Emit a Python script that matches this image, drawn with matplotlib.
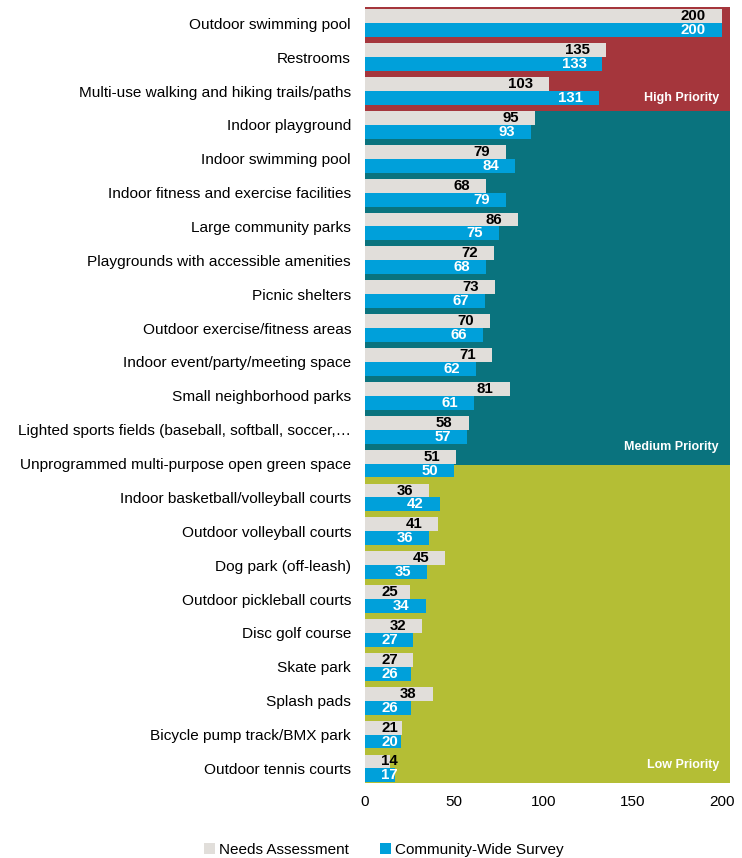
import matplotlib
matplotlib.use("Agg")
import matplotlib.pyplot as plt
from matplotlib.patches import Patch
from matplotlib.transforms import offset_copy

plt.rcParams['font.family'] = ['Liberation Sans', 'DejaVu Sans']

categories = [
    "Outdoor swimming pool",
    "Restrooms",
    "Multi-use walking and hiking trails/paths",
    "Indoor playground",
    "Indoor swimming pool",
    "Indoor fitness and exercise facilities",
    "Large community parks",
    "Playgrounds with accessible amenities",
    "Picnic shelters",
    "Outdoor exercise/fitness areas",
    "Indoor event/party/meeting space",
    "Small neighborhood parks",
    "Lighted sports fields (baseball, softball, soccer,\u2026",
    "Unprogrammed multi-purpose open green space",
    "Indoor basketball/volleyball courts",
    "Outdoor volleyball courts",
    "Dog park (off-leash)",
    "Outdoor pickleball courts",
    "Disc golf course",
    "Skate park",
    "Splash pads",
    "Bicycle pump track/BMX park",
    "Outdoor tennis courts",
]
needs_assessment = [200, 135, 103, 95, 79, 68, 86, 72, 73, 70, 71, 81, 58, 51,
                    36, 41, 45, 25, 32, 27, 38, 21, 14]
community_survey = [200, 133, 131, 93, 84, 79, 75, 68, 67, 66, 62, 61, 57, 50,
                    42, 36, 35, 34, 27, 26, 26, 20, 17]

priority_labels = ["High Priority", "Medium Priority", "Low Priority"]
priority_edges = [-0.48, 2.59, 13.04, 22.43]
priority_colors = ["#A5363C", "#0A737E", "#B4BE35"]

x_ticks = [0, 50, 100, 150, 200]

gray = "#E1DEDA"
blue = "#00A0DA"

fig = plt.figure(figsize=(7.42, 8.58), dpi=100)
ax = fig.add_axes([365 / 742, 1 - 783 / 858, 365 / 742, 776 / 858])

# priority bands behind the bars
for top, bot, col in zip(priority_edges[:-1], priority_edges[1:], priority_colors):
    ax.axhspan(top, bot, color=col, zorder=0, lw=0)

h = 0.41
ys = list(range(len(categories)))
ax.barh([y - h / 2 for y in ys], needs_assessment, height=h, color=gray, zorder=2, lw=0)
ax.barh([y + h / 2 for y in ys], community_survey, height=h, color=blue, zorder=2, lw=0)

ax.set_xlim(0, 204.5)
ax.set_ylim(priority_edges[-1], priority_edges[0])
ax.set_yticks(ys)
ax.set_yticklabels(categories, fontsize=11.1)
ax.set_xticks(x_ticks)
ax.set_xticklabels([str(t) for t in x_ticks], fontsize=11)
ax.tick_params(length=0)
ax.tick_params(axis='y', pad=10)
ax.tick_params(axis='x', pad=9)
for s in ax.spines.values():
    s.set_visible(False)

fig.canvas.draw()
renderer = fig.canvas.get_renderer()


def value_label(y, v, color):
    t = ax.text(v, y, str(v), ha='right', va='center', fontsize=10.8,
                fontweight='bold', color=color, zorder=3,
                transform=offset_copy(ax.transData, fig=fig, x=-16, y=0, units='dots'))
    bb = t.get_window_extent(renderer)
    x0 = ax.transData.transform((0, 0))[0]
    if bb.x0 < x0 + 16:
        t.set_ha('left')
        t.set_x(0)
        t.set_transform(offset_copy(ax.transData, fig=fig, x=16, y=0, units='dots'))


for y, v in zip(ys, needs_assessment):
    value_label(y - h / 2, v, "black")
for y, v in zip(ys, community_survey):
    value_label(y + h / 2, v, "white")

# band captions, bottom-right of each band
caption_lift = [0.38, 0.53, 0.53]
for lab, bot, lift in zip(priority_labels, priority_edges[1:], caption_lift):
    ax.text(198.3, bot - lift, lab, ha='right', va='center', fontsize=9,
            fontweight='bold', color='white', zorder=3)

handles = [Patch(facecolor=gray, edgecolor='none', label="Needs Assessment"),
           Patch(facecolor=blue, edgecolor='none', label="Community-Wide Survey")]
fig.legend(handles=handles, loc='center', bbox_to_anchor=(384 / 742, 1 - 850 / 858),
           ncol=2, frameon=False, fontsize=11, handlelength=0.7, handleheight=0.7,
           handletextpad=0.3, columnspacing=2.0)

fig.savefig("out.png", dpi=100)
